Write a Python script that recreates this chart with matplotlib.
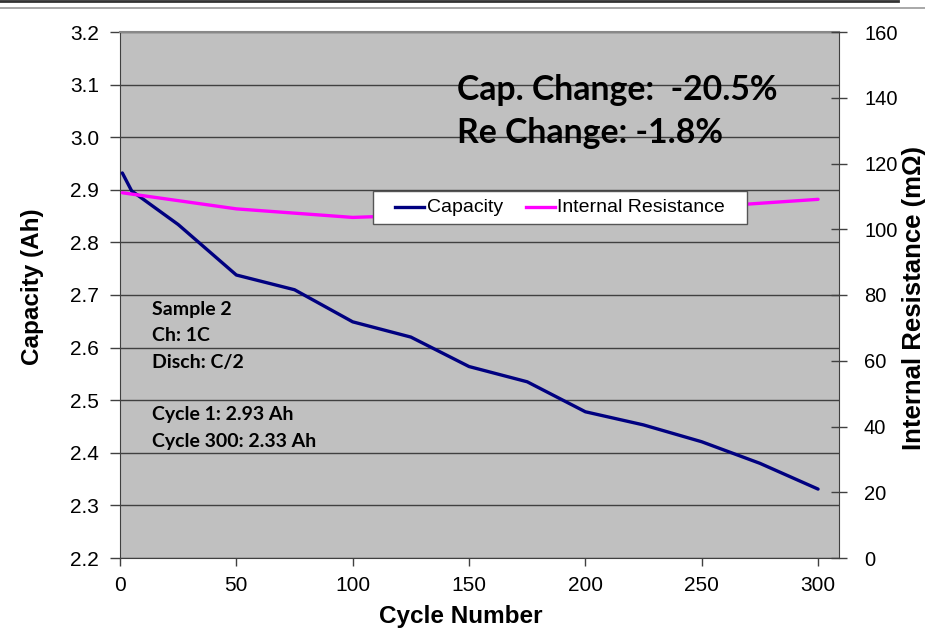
import matplotlib
matplotlib.use("Agg")
import matplotlib.pyplot as plt
from matplotlib.lines import Line2D
from matplotlib.patches import Rectangle

# values
cycles_cap = [1, 5, 25, 50, 75, 100, 125, 150, 175, 200, 225, 250, 275, 300]
capacity = [2.932, 2.898, 2.834, 2.738, 2.710, 2.649, 2.620, 2.564, 2.535,
            2.478, 2.453, 2.421, 2.380, 2.331]

cycles_res = [1, 50, 100, 150, 200, 250, 300]
resistance = [111.1, 106.2, 103.6, 104.8, 105.8, 106.7, 109.1]

x_ticks = [0, 50, 100, 150, 200, 250, 300]
cap_ticks = [2.2, 2.3, 2.4, 2.5, 2.6, 2.7, 2.8, 2.9, 3.0, 3.1, 3.2]
res_ticks = [0, 20, 40, 60, 80, 100, 120, 140, 160]

notes = ["Sample 2", "Ch: 1C", "Disch: C/2", "", "Cycle 1: 2.93 Ah", "Cycle 300: 2.33 Ah"]
change_lines = ["Cap. Change:  -20.5%", "Re Change: -1.8%"]

W, H = 925, 634
ARIAL = "Liberation Sans"
CALIBRI = "Lato"
NAVY = "#000080"
MAGENTA = "#FF00FF"


def fx(px):
    return px / W


def fy(py):
    return 1 - py / H


fig = plt.figure(figsize=(W / 100, H / 100), dpi=100)
ax = fig.add_axes([fx(120), fy(558), fx(839) - fx(120), fy(32) - fy(558)])
ax.set_facecolor("#C0C0C0")

ax.plot(cycles_cap, capacity, color=NAVY, lw=2.4, solid_capstyle="round", zorder=3)
ax.set_xlim(0, 309)
ax.set_ylim(2.2, 3.2)
ax.set_xticks(x_ticks)
ax.set_yticks(cap_ticks)
ax.set_yticklabels([f"{v:.1f}" for v in cap_ticks])
ax.yaxis.grid(True, color="#404040", lw=1.0)
ax.set_axisbelow(True)
ax.tick_params(axis="y", direction="out", length=7, width=1, color="#404040",
               labelsize=15, pad=8)
ax.tick_params(axis="x", direction="out", length=6, width=1, color="#404040",
               labelsize=15, pad=7)
for lab in ax.get_xticklabels() + ax.get_yticklabels():
    lab.set_fontfamily(ARIAL)
for s in ["left", "bottom", "right"]:
    ax.spines[s].set_color("#404040")
ax.spines["top"].set_color("#888888")
ax.spines["top"].set_linewidth(1.5)

ax2 = ax.twinx()
ax2.plot(cycles_res, resistance, color=MAGENTA, lw=2.4, solid_capstyle="round", zorder=3)
ax2.set_ylim(0, 160)
ax2.set_yticks(res_ticks)
ax2.tick_params(axis="y", direction="inout", length=12, width=1, color="#404040",
                labelsize=14.5, pad=12)
for lab in ax2.get_yticklabels():
    lab.set_fontfamily(ARIAL)
for s in ax2.spines.values():
    s.set_visible(False)

# axis titles
fig.text(fx(33), fy(287), "Capacity (Ah)", rotation=90, ha="center", va="center",
         fontsize=17.5, fontweight="bold", family=ARIAL)
fig.text(fx(461), fy(623), "Cycle Number", ha="center", va="baseline",
         fontsize=17.5, fontweight="bold", family=ARIAL)
fig.text(fx(914), fy(298), "Internal Resistance (m\u03a9)", rotation=90, ha="center",
         va="center", fontsize=18.5, fontweight="bold", family=ARIAL)

# annotations
for i, line in enumerate(change_lines):
    fig.text(fx(457), fy(100 + 43.3 * i), line, ha="left", va="baseline",
             fontsize=24.3, fontweight="bold", family=CALIBRI)
for i, line in enumerate(notes):
    if line:
        fig.text(fx(152), fy(315 + 26.3 * i), line, ha="left", va="baseline",
                 fontsize=14, fontweight="bold", family=CALIBRI)

# legend box as in the original
fig.add_artist(Rectangle((fx(373), fy(224)), fx(747) - fx(373), fy(191) - fy(224),
                         transform=fig.transFigure, facecolor="white",
                         edgecolor="#555555", lw=1, zorder=5))
fig.add_artist(Line2D([fx(395), fx(424)], [fy(207), fy(207)], color=NAVY, lw=2.4,
                      transform=fig.transFigure, zorder=6))
fig.text(fx(427), fy(207.5), "Capacity", ha="left", va="center", fontsize=14,
         family=ARIAL, zorder=6)
fig.add_artist(Line2D([fx(526), fx(555)], [fy(207), fy(207)], color=MAGENTA, lw=2.4,
                      transform=fig.transFigure, zorder=6))
fig.text(fx(557), fy(207.5), "Internal Resistance", ha="left", va="center", fontsize=14,
         family=ARIAL, zorder=6)

# rules along the top of the slide
fig.add_artist(Line2D([0, fx(898)], [fy(1), fy(1)], color="#333333", lw=2,
                      transform=fig.transFigure))
fig.add_artist(Line2D([0, 1], [fy(7.5), fy(7.5)], color="#999999", lw=1.2,
                      transform=fig.transFigure))

fig.savefig("out.png", dpi=100)
